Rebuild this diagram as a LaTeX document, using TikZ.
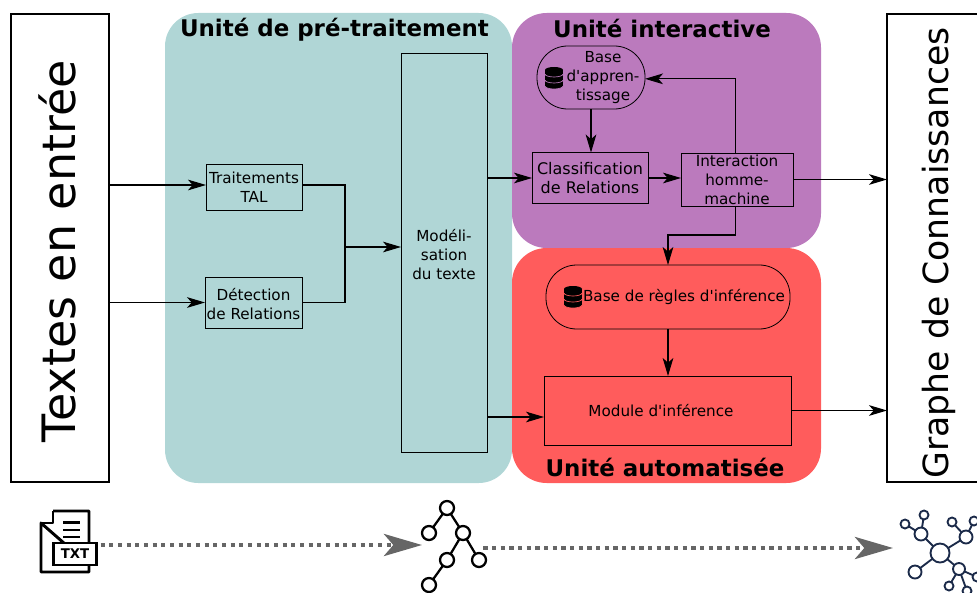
\documentclass[tikz,border=0pt]{standalone}
\usepackage{fontspec}
\setmainfont{DejaVu Sans}
\usetikzlibrary{arrows.meta}
\newdimen\pxu
\pxu=0.75pt
\definecolor{preteal}{HTML}{B0D6D6}
\definecolor{interpurple}{HTML}{BB7ABD}
\definecolor{autored}{HTML}{FF5C5C}
\definecolor{netnavy}{HTML}{1B2A49}
\definecolor{arrowgray}{HTML}{666666}
\tikzset{
  dbicon/.pic={
    \foreach \layer in {6,0,-6} {
      \fill[black,draw=#1,line width=.5pt] (0,\layer+2) ellipse[x radius=9,y radius=3];
      \fill[black] (-9,\layer-2) rectangle (9,\layer+2);
      \fill[black] (0,\layer-2) ellipse[x radius=9,y radius=3];
    }
  }
}
\begin{document}
\begin{tikzpicture}[x=.75pt,y=-.75pt,
    every node/.style={font=\fontsize{11.4}{14.25}\selectfont,align=center,inner sep=0pt,outer sep=0pt},
    blockbox/.style={draw=black,line width=.6pt},
    pillbox/.style={blockbox,rounded corners=23pt},
    sidebox/.style={draw=black,line width=1.1pt,fill=white},
    unittitle/.style={font=\fontsize{17.2}{19}\selectfont\bfseries},
    wire/.style={line width=.8pt},
    flow/.style={wire,-{Stealth[length=13.5pt,width=8pt,inset=3.5pt]}},
    dotflow/.style={arrowgray,line width=3.4pt,dash pattern=on 3.2pt off 3.3pt,-{Stealth[length=28.5pt,width=16.5pt,inset=7pt]}},
    treenode/.style={circle,draw=black,line width=1.7pt,fill=white,minimum size=14\pxu},
    hubnode/.style={circle,draw=netnavy,line width=1.4pt,fill=white,minimum size=#1\pxu}]
    \path[use as bounding box,clip] (0,0) rectangle (977,592);
    \fill[preteal,rounded corners=25pt] (165,13) rectangle (512,483);
    \fill[interpurple,rounded corners=26pt] (512,13) rectangle (821,248);
    \fill[autored,rounded corners=26pt] (512,248) rectangle (821,483);
    \node[unittitle] (pretitle) at (334.5,30) {Unité de pré-traitement};
    \node[unittitle] (intertitle) at (662,28) {Unité interactive};
    \node[unittitle] (autotitle) at (665,467) {Unité automatisée};
    \node[sidebox,minimum width=98\pxu,minimum height=468\pxu,font=\fontsize{34.5}{37}\selectfont] (textin) at (60,248) {\rotatebox{90}{Textes en entrée\hspace*{6\pxu}}\hspace*{6\pxu}};
    \node[sidebox,minimum width=98\pxu,minimum height=468\pxu,font=\fontsize{26}{28}\selectfont] (graph) at (936,248) {\hspace*{6\pxu}\rotatebox{90}{Graphe de Connaissances\hspace*{10\pxu}}};
    \node[blockbox,minimum width=96\pxu,minimum height=46\pxu] (trait) at (254,187) {Traitements\\TAL};
    \node[blockbox,minimum width=97\pxu,minimum height=51\pxu] (detect) at (253.5,302.5) {\rule{0pt}{11.6pt}Détection\\de Relations};
    \node[blockbox,minimum width=86\pxu,minimum height=399\pxu] (model) at (444,252.5) {\rule{0pt}{11.6pt}Modéli-\\sation\\du texte};
    \node[blockbox,minimum width=116\pxu,minimum height=51\pxu,font=\fontsize{12}{14.25}\selectfont] (classif) at (590,178) {Classification\\de Relations};
    \node[blockbox,minimum width=112\pxu,minimum height=53\pxu] (inter) at (737,179.5) {Interaction\\homme-\\machine};
    \node[pillbox,minimum width=108\pxu,minimum height=63\pxu] (baseapp) at (591,77.5) {\hspace*{24\pxu}Base\\\hspace*{24\pxu}d\textquotesingle{}appren-\\\hspace*{24\pxu}tissage};
    \node[pillbox,minimum width=244\pxu,minimum height=64\pxu] (regles) at (668,297) {\hspace*{32\pxu}Base de règles d\textquotesingle{}inférence};
    \node[blockbox,minimum width=247\pxu,minimum height=69\pxu] (module) at (667.5,410.5) {Module d\textquotesingle{}inférence\hspace*{13\pxu}};
    \pic at (554,78) {dbicon=interpurple};
    \pic at (573,297) {dbicon=autored};
    \coordinate (merge) at (345,247);
    \coordinate (modin) at (544,417);
    \coordinate (bend) at (668,235);
    \draw[flow] (textin.east |- trait.west) ++(0,-2) -- ([yshift=1.5pt]trait.west);
    \draw[flow] (textin.east |- detect.west) -- (detect.west);
    \draw[wire] ([yshift=1.5pt]trait.east) -| (merge);
    \draw[wire] (detect.east) -| (merge);
    \draw[flow] (merge) -- (model.west |- merge);
    \draw[flow] (model.east |- classif.west) -- (classif.west);
    \draw[flow] (model.east |- modin) -- (modin);
    \draw[flow] (classif.east) -- (inter.west |- classif.east);
    \draw[flow] (baseapp.south) -- (baseapp.south |- classif.north);
    \draw[flow] ([xshift=-1pt]inter.north) |- ([yshift=-1pt]baseapp.east);
    \draw[flow] ([xshift=-1pt]inter.south) |- (bend) -- (regles.north);
    \draw[flow] (regles.south) -- (regles.south |- module.north);
    \draw[flow] (inter.east) -- (inter.east -| graph.west);
    \draw[flow] (module.east) -- (module.east -| graph.west);
    \draw[line width=2.2pt,line join=round] (53,511) -- (89,511) -- (89,543) (89,565) -- (89,572) -- (41,572) -- (41,523) -- cycle;
    \draw[line width=1.8pt,line join=round] (53,511) -- (53,523) -- (41,523);
    \draw[line width=2.2pt] (63,522.5) -- (80,522.5) (63,530) -- (80,530) (63,537) -- (80,537);
    \node[draw=black,line width=2.2pt,fill=white,minimum width=43\pxu,minimum height=22\pxu,font=\fontsize{10}{11}\selectfont\bfseries] (txtlabel) at (75,554) {TXT};
    \coordinate (treein) at (422,545);
    \coordinate (netin) at (893,548);
    \draw[dotflow] ([xshift=3pt]txtlabel.east |- treein) -- (treein);
    \node[treenode] (troot) at (447,508) {};
    \node[treenode] (tleft) at (429,533) {};
    \node[treenode] (tright) at (463,533) {};
    \node[treenode] (tmid) at (447,560) {};
    \node[treenode] (tfar) at (479,560) {};
    \node[treenode] (tlow) at (429,585) {};
    \draw[line width=1.7pt] (troot) -- (tleft) (troot) -- (tright) (tright) -- (tmid) (tright) -- (tfar) (tmid) -- (tlow);
    \draw[dotflow] ([xshift=-2pt]tfar.east |- netin) -- (netin);
    \node[hubnode=19] (ncenter) at (940,553) {};
    \node[hubnode=13] (na) at (921,534) {};
    \node[hubnode=9] (naone) at (924,515) {};
    \node[hubnode=9] (natwo) at (905,524) {};
    \node[hubnode=13] (nb) at (966,537) {};
    \node[hubnode=9] (nbone) at (952,522) {};
    \node[hubnode=9] (nbtwo) at (974,521) {};
    \node[hubnode=13] (nc) at (915,572) {};
    \node[hubnode=12] (nd) at (959,569) {};
    \node[hubnode=9] (ndone) at (949,586) {};
    \node[hubnode=9] (ndtwo) at (967,591) {};
    \node[hubnode=9] (ndthree) at (977,577) {};
    \draw[netnavy,line width=1.4pt] (ncenter) -- (na) (na) -- (naone) (na) -- (natwo) (ncenter) -- (nb) (nb) -- (nbone) (nb) -- (nbtwo) (ncenter) -- (nc) (ncenter) -- (nd) (nd) -- (ndone) (nd) -- (ndtwo) (nd) -- (ndthree);
\end{tikzpicture}
\end{document}
